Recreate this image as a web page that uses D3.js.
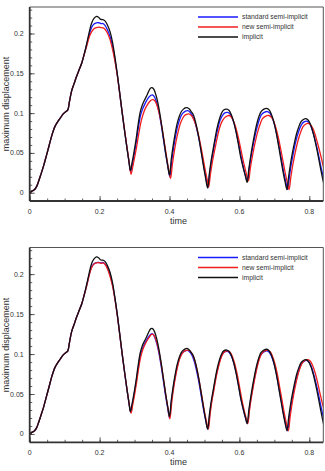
<!DOCTYPE html>
<html>
<head>
<meta charset="utf-8">
<script src="https://cdnjs.cloudflare.com/ajax/libs/d3/7.8.5/d3.min.js"></script>
<style>
body { margin: 0; background: #fff; }
text { font-family: "Liberation Sans", Arial, sans-serif; fill: #333; }
.tick-label { font-size: 7px; }
.axis-title { font-size: 9px; }
.legend-label { font-size: 6.8px; }
</style>
</head>
<body>
<div id="chart"></div>
<script>
//Series names and tick values
let series_names = ['standard semi-implicit', 'new semi-implicit', 'implicit'];
let x_ticks = [0, 0.2, 0.4, 0.6, 0.8];
let y_ticks = [0, 0.05, 0.1, 0.15, 0.2];

//Start of the response, shared by every run (time, displacement)
let shared_rise = [[0,0],[0.006,0.002],[0.014,0.004],[0.020,0.008],[0.026,0.015],[0.032,0.023],[0.040,0.034],[0.048,0.047],[0.056,0.060],[0.064,0.073],[0.072,0.083],[0.080,0.089],[0.088,0.094],[0.096,0.099],[0.104,0.102],[0.109,0.104],[0.114,0.115],[0.120,0.128],[0.127,0.137],[0.134,0.146],[0.142,0.155],[0.149,0.163],[0.156,0.174]];

//Implicit reference (same in both panels)
let implicit_vals = [[0.163,0.187],[0.170,0.201],[0.177,0.213],[0.184,0.219],[0.191,0.2215],[0.197,0.2205],[0.202,0.218],[0.207,0.2175],[0.212,0.217],[0.217,0.215],[0.223,0.210],[0.230,0.202],[0.237,0.189],[0.244,0.170],[0.251,0.148],[0.258,0.124],[0.265,0.099],[0.272,0.076],[0.279,0.054],[0.284,0.039],[0.288,0.028],
  [0.293,0.038],[0.298,0.050],[0.304,0.066],[0.310,0.085],[0.316,0.101],[0.322,0.110],[0.328,0.116],[0.334,0.121],[0.340,0.127],[0.346,0.1315],[0.350,0.132],[0.355,0.130],[0.361,0.123],[0.368,0.110],[0.375,0.092],[0.382,0.071],[0.389,0.050],[0.395,0.034],[0.400,0.022],
  [0.405,0.042],[0.410,0.058],[0.416,0.074],[0.422,0.087],[0.428,0.096],[0.434,0.102],[0.440,0.105],[0.445,0.1065],[0.450,0.107],[0.456,0.1055],[0.462,0.102],[0.469,0.097],[0.476,0.086],[0.483,0.071],[0.490,0.053],[0.497,0.034],[0.503,0.019],[0.509,0.006],
  [0.514,0.024],[0.519,0.040],[0.525,0.055],[0.531,0.070],[0.537,0.083],[0.543,0.093],[0.549,0.100],[0.555,0.104],[0.564,0.105],[0.570,0.1035],[0.576,0.099],[0.583,0.090],[0.590,0.077],[0.597,0.061],[0.604,0.044],[0.611,0.031],[0.617,0.021],[0.622,0.013],
  [0.627,0.030],[0.632,0.045],[0.638,0.061],[0.644,0.075],[0.650,0.087],[0.656,0.096],[0.662,0.102],[0.670,0.105],[0.678,0.106],[0.685,0.104],[0.691,0.099],[0.698,0.090],[0.705,0.076],[0.712,0.059],[0.719,0.041],[0.725,0.026],[0.731,0.013],[0.736,0.004],
  [0.741,0.021],[0.746,0.036],[0.752,0.051],[0.758,0.064],[0.764,0.075],[0.770,0.083],[0.776,0.089],[0.783,0.092],[0.790,0.093],[0.797,0.091],[0.804,0.085],[0.811,0.075],[0.818,0.062],[0.825,0.047],[0.832,0.031],[0.840,0.014],[0.845,0.006]];

//Top panel runs
let std_top_vals = [[0.163,0.186],[0.170,0.198],[0.177,0.2075],[0.184,0.212],[0.191,0.2135],[0.198,0.2135],[0.204,0.2125],[0.210,0.2125],[0.216,0.210],[0.223,0.204],[0.230,0.196],[0.237,0.184],[0.244,0.167],[0.251,0.147],[0.258,0.123],[0.265,0.099],[0.272,0.076],[0.279,0.054],[0.284,0.039],[0.289,0.026],
  [0.294,0.036],[0.299,0.048],[0.305,0.064],[0.311,0.082],[0.317,0.097],[0.323,0.105],[0.329,0.111],[0.335,0.116],[0.341,0.120],[0.347,0.1225],[0.351,0.123],[0.356,0.121],[0.362,0.115],[0.369,0.103],[0.376,0.086],[0.383,0.066],[0.390,0.046],[0.396,0.031],[0.401,0.020],
  [0.406,0.038],[0.411,0.054],[0.417,0.070],[0.423,0.083],[0.429,0.092],[0.435,0.098],[0.441,0.101],[0.446,0.1025],[0.452,0.103],[0.458,0.1015],[0.464,0.098],[0.471,0.091],[0.478,0.080],[0.485,0.066],[0.492,0.049],[0.499,0.031],[0.505,0.017],[0.510,0.006],
  [0.515,0.024],[0.520,0.039],[0.526,0.054],[0.532,0.068],[0.538,0.080],[0.544,0.090],[0.550,0.096],[0.557,0.100],[0.566,0.101],[0.572,0.0995],[0.578,0.095],[0.585,0.087],[0.592,0.074],[0.599,0.059],[0.606,0.043],[0.613,0.029],[0.619,0.019],[0.623,0.014],
  [0.628,0.030],[0.633,0.044],[0.639,0.059],[0.645,0.072],[0.651,0.083],[0.657,0.092],[0.663,0.098],[0.671,0.101],[0.680,0.102],[0.687,0.100],[0.693,0.095],[0.700,0.086],[0.707,0.073],[0.714,0.057],[0.721,0.040],[0.727,0.025],[0.733,0.013],[0.738,0.004],
  [0.743,0.020],[0.748,0.035],[0.754,0.049],[0.760,0.062],[0.766,0.072],[0.772,0.080],[0.778,0.086],[0.785,0.089],[0.792,0.090],[0.799,0.088],[0.806,0.082],[0.813,0.072],[0.820,0.060],[0.827,0.046],[0.834,0.031],[0.842,0.017],[0.846,0.010]];

let new_top_vals = [[0.163,0.184],[0.170,0.195],[0.177,0.202],[0.184,0.206],[0.191,0.2075],[0.198,0.208],[0.204,0.2075],[0.210,0.207],[0.216,0.205],[0.223,0.200],[0.230,0.192],[0.237,0.180],[0.244,0.165],[0.251,0.146],[0.258,0.123],[0.265,0.100],[0.272,0.077],[0.279,0.055],[0.285,0.037],[0.290,0.023],
  [0.295,0.033],[0.300,0.044],[0.306,0.058],[0.312,0.074],[0.318,0.088],[0.324,0.098],[0.330,0.105],[0.336,0.110],[0.342,0.114],[0.348,0.1165],[0.353,0.117],[0.358,0.1155],[0.364,0.110],[0.371,0.099],[0.378,0.083],[0.385,0.064],[0.392,0.044],[0.398,0.028],[0.403,0.018],
  [0.408,0.035],[0.413,0.050],[0.419,0.065],[0.425,0.077],[0.431,0.087],[0.437,0.093],[0.443,0.097],[0.449,0.0985],[0.455,0.099],[0.461,0.0975],[0.467,0.094],[0.474,0.087],[0.481,0.076],[0.488,0.062],[0.495,0.046],[0.502,0.029],[0.508,0.016],[0.512,0.007],
  [0.517,0.023],[0.522,0.037],[0.528,0.051],[0.534,0.064],[0.540,0.076],[0.546,0.085],[0.552,0.091],[0.560,0.095],[0.570,0.097],[0.576,0.0955],[0.582,0.091],[0.589,0.083],[0.596,0.071],[0.603,0.057],[0.610,0.042],[0.617,0.029],[0.622,0.020],[0.626,0.015],
  [0.631,0.030],[0.636,0.043],[0.642,0.057],[0.648,0.069],[0.654,0.079],[0.660,0.087],[0.666,0.093],[0.674,0.096],[0.684,0.097],[0.691,0.095],[0.697,0.091],[0.704,0.082],[0.711,0.070],[0.718,0.055],[0.725,0.039],[0.731,0.025],[0.737,0.013],[0.742,0.004],
  [0.747,0.019],[0.752,0.033],[0.758,0.047],[0.764,0.059],[0.770,0.069],[0.776,0.077],[0.782,0.083],[0.789,0.086],[0.797,0.087],[0.804,0.085],[0.811,0.080],[0.818,0.071],[0.825,0.060],[0.832,0.048],[0.840,0.033],[0.846,0.024]];

//Bottom panel runs
let std_bottom_vals = [[0.163,0.186],[0.170,0.199],[0.177,0.209],[0.184,0.213],[0.191,0.2145],[0.198,0.2145],[0.204,0.214],[0.210,0.2145],[0.216,0.2125],[0.223,0.207],[0.230,0.199],[0.237,0.187],[0.244,0.169],[0.251,0.148],[0.258,0.123],[0.265,0.098],[0.272,0.075],[0.279,0.053],[0.284,0.039],[0.289,0.027],
  [0.294,0.038],[0.299,0.050],[0.305,0.066],[0.311,0.084],[0.317,0.099],[0.323,0.107],[0.329,0.113],[0.335,0.118],[0.341,0.122],[0.346,0.1245],[0.350,0.1255],[0.355,0.1235],[0.361,0.117],[0.368,0.105],[0.375,0.088],[0.382,0.068],[0.389,0.047],[0.395,0.032],[0.400,0.020],
  [0.405,0.039],[0.410,0.055],[0.416,0.071],[0.422,0.084],[0.428,0.094],[0.434,0.100],[0.440,0.103],[0.445,0.104],[0.451,0.1045],[0.457,0.103],[0.463,0.0995],[0.470,0.092],[0.477,0.080],[0.484,0.065],[0.491,0.047],[0.498,0.029],[0.504,0.016],[0.510,0.006],
  [0.515,0.024],[0.520,0.040],[0.526,0.055],[0.532,0.070],[0.538,0.082],[0.544,0.092],[0.550,0.099],[0.557,0.1025],[0.565,0.1035],[0.571,0.102],[0.577,0.0975],[0.584,0.089],[0.591,0.076],[0.598,0.060],[0.605,0.043],[0.612,0.029],[0.618,0.019],[0.623,0.013],
  [0.628,0.030],[0.633,0.045],[0.639,0.060],[0.645,0.074],[0.651,0.086],[0.657,0.095],[0.663,0.100],[0.671,0.103],[0.679,0.104],[0.686,0.102],[0.692,0.097],[0.699,0.088],[0.706,0.075],[0.713,0.058],[0.720,0.041],[0.726,0.026],[0.732,0.013],[0.738,0.004],
  [0.743,0.021],[0.748,0.036],[0.754,0.051],[0.760,0.064],[0.766,0.074],[0.772,0.082],[0.778,0.088],[0.785,0.091],[0.792,0.092],[0.799,0.090],[0.806,0.084],[0.813,0.074],[0.820,0.062],[0.827,0.048],[0.834,0.033],[0.842,0.018],[0.846,0.011]];

let new_bottom_vals = [[0.163,0.185],[0.170,0.198],[0.177,0.208],[0.184,0.2125],[0.191,0.214],[0.198,0.2145],[0.204,0.2135],[0.210,0.214],[0.216,0.212],[0.223,0.206],[0.230,0.197],[0.237,0.185],[0.244,0.168],[0.251,0.147],[0.258,0.123],[0.265,0.099],[0.272,0.076],[0.279,0.054],[0.285,0.037],[0.290,0.026],
  [0.295,0.037],[0.300,0.049],[0.306,0.065],[0.312,0.083],[0.318,0.097],[0.324,0.106],[0.330,0.112],[0.336,0.117],[0.342,0.121],[0.347,0.124],[0.351,0.125],[0.356,0.123],[0.362,0.117],[0.369,0.105],[0.376,0.088],[0.383,0.068],[0.390,0.047],[0.396,0.031],[0.401,0.019],
  [0.406,0.038],[0.411,0.055],[0.417,0.071],[0.423,0.084],[0.429,0.094],[0.435,0.100],[0.441,0.103],[0.447,0.1045],[0.453,0.105],[0.459,0.1035],[0.465,0.100],[0.472,0.092],[0.479,0.080],[0.486,0.064],[0.493,0.046],[0.500,0.028],[0.506,0.015],[0.511,0.006],
  [0.516,0.024],[0.521,0.040],[0.527,0.055],[0.533,0.070],[0.539,0.082],[0.545,0.092],[0.551,0.099],[0.558,0.103],[0.567,0.104],[0.573,0.1025],[0.579,0.098],[0.586,0.089],[0.593,0.076],[0.600,0.060],[0.607,0.043],[0.614,0.029],[0.620,0.019],[0.624,0.013],
  [0.629,0.030],[0.634,0.045],[0.640,0.060],[0.646,0.074],[0.652,0.086],[0.658,0.095],[0.664,0.101],[0.672,0.104],[0.681,0.105],[0.688,0.103],[0.694,0.098],[0.701,0.089],[0.708,0.076],[0.715,0.059],[0.722,0.042],[0.728,0.027],[0.734,0.014],[0.740,0.004],
  [0.745,0.021],[0.750,0.036],[0.756,0.051],[0.762,0.064],[0.768,0.075],[0.774,0.083],[0.780,0.089],[0.787,0.092],[0.796,0.093],[0.803,0.091],[0.810,0.085],[0.817,0.076],[0.824,0.064],[0.831,0.050],[0.838,0.037],[0.846,0.025]];

let colors = ['#1a1aff', '#f01e1e', '#111111'];

let width = 325, height = 471;
let svg = d3.select('#chart').append('svg').attr('width', width).attr('height', height);

//Panel frames in pixels
let panels = [
    {top: 7, bottom: 201, series: [std_top_vals, new_top_vals, implicit_vals]},
    {top: 247.5, bottom: 442.3, series: [std_bottom_vals, new_bottom_vals, implicit_vals]}
];
let left = 29.7, right = 323.3;

panels.forEach((p, pi) => {
    let x = d3.scaleLinear().domain([0, 0.84]).range([left, right]);
    let y = d3.scaleLinear().domain([-0.0104, 0.2333]).range([p.bottom, p.top]);
    let g = svg.append('g');

    g.append('clipPath').attr('id', 'clip' + pi).append('rect')
        .attr('x', left).attr('y', p.top).attr('width', right - left).attr('height', p.bottom - p.top);

    //Inward ticks, minor then major
    let xAxis = d3.axisTop(x).tickValues(d3.range(0, 0.841, 0.05)).tickSize(2.5).tickFormat('');
    g.append('g').attr('transform', 'translate(0,' + p.bottom + ')').call(xAxis);
    let xMajor = d3.axisTop(x).tickValues(x_ticks).tickSize(5).tickFormat('');
    g.append('g').attr('transform', 'translate(0,' + p.bottom + ')').call(xMajor);
    let yAxis = d3.axisRight(y).tickValues(d3.range(0, 0.231, 0.01)).tickSize(2.5).tickFormat('');
    g.append('g').attr('transform', 'translate(' + left + ',0)').call(yAxis);
    let yMajor = d3.axisRight(y).tickValues(y_ticks).tickSize(5).tickFormat('');
    g.append('g').attr('transform', 'translate(' + left + ',0)').call(yMajor);
    g.selectAll('.domain').remove();
    g.selectAll('.tick line').attr('stroke', '#333').attr('stroke-width', 0.8);

    //Tick labels
    g.selectAll('.xlab').data(x_ticks).enter().append('text')
        .attr('class', 'tick-label').attr('x', d => x(d)).attr('y', p.bottom + 13)
        .attr('text-anchor', 'middle').text(d => d3.format('~g')(d));
    g.selectAll('.ylab').data(y_ticks).enter().append('text')
        .attr('class', 'tick-label').attr('x', left - 6).attr('y', d => y(d) + 2.5)
        .attr('text-anchor', 'end').text(d => d3.format('~g')(d));

    //Curves
    let line = d3.line().x(d => x(d[0])).y(d => y(d[1])).curve(d3.curveCatmullRom.alpha(0.5));
    p.series.forEach((s, i) => {
        g.append('path').datum(shared_rise.concat(s))
            .attr('clip-path', 'url(#clip' + pi + ')')
            .attr('fill', 'none').attr('stroke', colors[i]).attr('stroke-width', 1.3)
            .attr('d', line);
    });

    //Frame
    g.append('line').attr('x1', left).attr('x2', right).attr('y1', p.top).attr('y2', p.top).attr('stroke', '#555').attr('stroke-width', 1);
    g.append('line').attr('x1', right).attr('x2', right).attr('y1', p.top).attr('y2', p.bottom).attr('stroke', '#555').attr('stroke-width', 1);
    g.append('line').attr('x1', left).attr('x2', right).attr('y1', p.bottom).attr('y2', p.bottom).attr('stroke', '#333').attr('stroke-width', 1.8);
    g.append('line').attr('x1', left).attr('x2', left).attr('y1', p.top).attr('y2', p.bottom).attr('stroke', '#333').attr('stroke-width', 1.8);

    //Axis titles
    g.append('text').attr('class', 'axis-title').attr('x', (left + right) / 2 + 2).attr('y', p.bottom + 23)
        .attr('text-anchor', 'middle').text('time');
    g.append('text').attr('class', 'axis-title')
        .attr('transform', 'translate(9,' + ((p.top + p.bottom) / 2) + ') rotate(-90)')
        .attr('text-anchor', 'middle').text('maximum displacement');

    //Legend
    series_names.forEach((n, i) => {
        let ly = p.top + 10 + i * 10;
        g.append('line').attr('x1', 198).attr('x2', 238).attr('y1', ly).attr('y2', ly)
            .attr('stroke', colors[i]).attr('stroke-width', 1.3);
        g.append('text').attr('class', 'legend-label').attr('x', 242).attr('y', ly + 2.4).text(n);
    });
});
</script>
</body>
</html>
